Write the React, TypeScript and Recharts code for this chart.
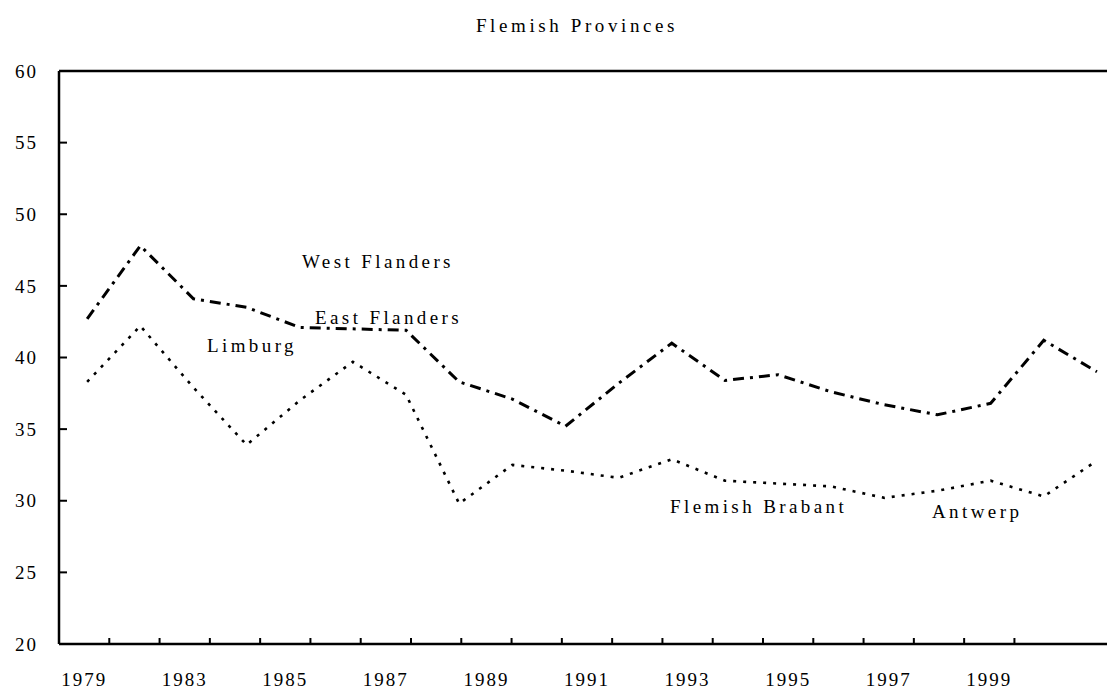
import React from "react";
import { LineChart, Line, XAxis, YAxis } from "recharts";

// one value per year
const YEARS = [1979, 1980, 1981, 1982, 1983, 1984, 1985, 1986, 1987, 1988, 1989, 1990, 1991, 1992, 1993, 1994, 1995, 1996, 1997, 1998];
const UPPER = [42.7, 47.8, 44.1, 43.5, 42.1, 42.0, 41.9, 38.3, 37.1, 35.2, 38.2, 41.0, 38.4, 38.8, 37.6, 36.7, 36.0, 36.8, 41.2, 39.0];
const LOWER = [38.3, 42.2, 37.9, 33.9, 37.0, 39.7, 37.4, 29.8, 32.5, 32.1, 31.6, 32.9, 31.4, 31.2, 31.0, 30.2, 30.7, 31.4, 30.3, 32.8];

const Y_TICKS = [20, 25, 30, 35, 40, 45, 50, 55, 60];
// the printed axis runs 1979-1999 with a label on every other year (the scan reads "1983" where 1981 would be)
const AXIS_YEARS = [1979, 1981, 1983, 1985, 1987, 1989, 1991, 1993, 1995, 1997];
const X_LABELS = ["1979", "1983", "1985", "1987", "1989", "1991", "1993", "1995", "1997", "1999"];
const SERIES_NAMES = ["West Flanders", "East Flanders", "Limburg", "Flemish Brabant", "Antwerp"];

const W = 1107;
const H = 683;
const FONT = '"Liberation Serif", "Times New Roman", serif';

// where each series name sits (baseline, container coords)
const NAME_POS: Record<string, [number, number]> = {
  "West Flanders": [294, 260],
  "East Flanders": [307, 316],
  Limburg: [199, 344],
  "Flemish Brabant": [662, 505],
  Antwerp: [924, 510],
};

const data = YEARS.map((year, i) => ({ year, upper: UPPER[i], lower: LOWER[i] }));
// tick marks sit between yearly slots 1979..1999
const slotEdges = Array.from({ length: 19 }, (_, i) => 1979.5 + i);
const labelFor: Record<number, string> = Object.fromEntries(AXIS_YEARS.map((y, i) => [y, X_LABELS[i]]));

const textStyle = { fontFamily: FONT, fontSize: 19, fill: "#000" };

const NoLabel = () => <g />;

export default function App() {
  return (
    <div style={{ position: "relative", width: W, height: H, background: "#fff" }}>
      <LineChart width={W} height={H} data={data} margin={{ top: 63, right: 0, bottom: 46, left: 50 }}>
        <XAxis xAxisId="yr" type="number" dataKey="year" domain={[1978.47, 1998.34]} hide allowDataOverflow />
        <XAxis
          xAxisId="marks"
          type="number"
          dataKey="year"
          domain={[1978.5, 1999.5]}
          ticks={slotEdges}
          interval={0}
          height={1}
          mirror
          tick={NoLabel}
          tickSize={6}
          axisLine={{ stroke: "#000", strokeWidth: 2.5 }}
          tickLine={{ stroke: "#000", strokeWidth: 2 }}
          allowDataOverflow
        />
        <XAxis
          xAxisId="labels"
          type="number"
          dataKey="year"
          domain={[1978.5, 1999.5]}
          ticks={AXIS_YEARS}
          tickFormatter={(v: number) => labelFor[v] ?? ""}
          height={1}
          axisLine={false}
          tickLine={false}
          tickSize={0}
          tickMargin={29}
          interval={0}
          tick={{ ...textStyle, letterSpacing: 2 }}
          allowDataOverflow
        />
        <XAxis
          xAxisId="top"
          orientation="top"
          type="number"
          dataKey="year"
          domain={[1978.5, 1999.5]}
          height={1}
          tick={false}
          tickLine={false}
          mirror
          axisLine={{ stroke: "#000", strokeWidth: 2.5 }}
          allowDataOverflow
        />
        <YAxis
          type="number"
          domain={[20, 60]}
          ticks={Y_TICKS}
          width={1}
          interval={0}
          tickSize={-8}
          tickMargin={29}
          axisLine={{ stroke: "#000", strokeWidth: 2.5 }}
          tickLine={{ stroke: "#000", strokeWidth: 2 }}
          tick={{ ...textStyle, letterSpacing: 2 }}
          allowDataOverflow
        />
        <Line
          xAxisId="yr"
          dataKey="upper"
          stroke="#000"
          strokeWidth={3}
          strokeDasharray="11 6 3 6"
          dot={false}
          isAnimationActive={false}
        />
        <Line
          xAxisId="yr"
          dataKey="lower"
          stroke="#000"
          strokeWidth={2.6}
          strokeDasharray="3 7"
          dot={false}
          isAnimationActive={false}
        />
      </LineChart>
      <svg width={W} height={H} style={{ position: "absolute", left: 0, top: 0, pointerEvents: "none" }}>
        <text x={569} y={24} textAnchor="middle" style={{ ...textStyle, letterSpacing: 3.6 }}>
          Flemish Provinces
        </text>
        {SERIES_NAMES.map((name) => (
          <text key={name} x={NAME_POS[name][0]} y={NAME_POS[name][1]} style={{ ...textStyle, letterSpacing: 3.4 }}>
            {name}
          </text>
        ))}
      </svg>
    </div>
  );
}
